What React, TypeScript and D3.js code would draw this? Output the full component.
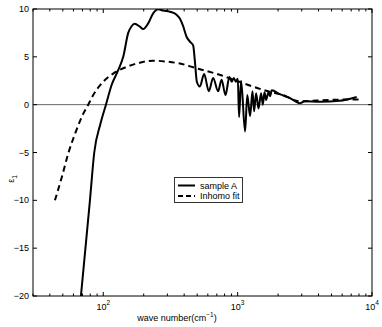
import React, { useEffect, useRef } from "react";
import * as d3 from "d3";

// sample A (solid), wave number in cm^-1
const sampleWave = [
  68.2, 79.6, 85.7, 95.3, 104.7, 115.4, 129.2, 140.8, 153.4, 162.5, 171.1, 187.3, 198.3, 215.9, 235.2,
  256.3, 279.2, 313.2, 351.2, 371.5, 393.2, 416.8, 441.0, 466.6, 480.4, 497.1, 523.3, 563.2, 610.5, 657.0,
  715.8, 759.0, 812.7, 867.5, 905.0, 936.5, 969.2, 1003, 1025, 1061, 1136, 1180, 1238, 1290, 1326,
  1372, 1430, 1495, 1539, 1585, 1628, 1697, 1744, 1795, 2058, 2443, 2899, 3158, 4082, 5748, 7691,
];
const sampleEps = [
  -20, -10, -5, -2, 0, 2.06, 3.6, 5.0, 7.5, 8.2, 8.45, 8.15, 7.9, 8.5, 9.55,
  9.97, 9.83, 9.72, 9.4, 9.0, 8.2, 7.1, 6.6, 6.2, 4.6, 2.4, 1.9, 3.2, 1.4, 2.8,
  1.4, 2.6, 1.0, 2.9, 2.4, 2.8, 2.4, 2.7, -1.3, 2.5, -2.8, 1.0, -1.2, 1.4, -0.7,
  1.2, -0.4, 1.2, 0.0, 1.3, 0.5, 1.3, 0.9, 1.5, 1.1, 0.7, 0.15, 0.35, 0.3, 0.4, 0.8,
];

// Inhomo fit (dashed)
const fitWave = [
  43.7, 49.3, 54.9, 61.6, 67.1, 71.0, 77.3, 84.2, 100, 118.6, 149.2, 187.3,
  235.2, 296.0, 371.5, 494.6, 762.8, 875, 1734, 2130, 2899, 4845, 8380,
];
const fitEps = [
  -10, -7.5, -5.1, -3.05, -1.72, -0.94, 0, 1.0, 2.4, 3.25, 3.95, 4.39,
  4.6, 4.5, 4.3, 3.8, 3.05, 2.75, 1.35, 1.05, 0.35, 0.5, 0.55,
];

const yTicks = [10, 5, 0, -5, -10, -15, -20];
const xMajor = [100, 1000, 10000];
const legendLabels = ["sample A", "Inhomo fit"];

const W = 382;
const H = 327;
const FONT = "'Liberation Sans', Arial, Helvetica, sans-serif";
const FS = 9;

export default function App() {
  const svgRef = useRef<SVGSVGElement | null>(null);

  useEffect(() => {
    const svg = d3.select(svgRef.current);
    svg.selectAll("*").remove();

    const left = 33;
    const right = 372;
    const top = 9;
    const bottom = 296;

    const x = d3.scaleLog().domain([30, 10000]).range([left, right]);
    const y = d3.scaleLinear().domain([-20, 10]).range([bottom, top]);

    svg.append("rect").attr("width", W).attr("height", H).attr("fill", "white");

    svg
      .append("defs")
      .append("clipPath")
      .attr("id", "plotClip")
      .append("rect")
      .attr("x", left)
      .attr("y", top)
      .attr("width", right - left)
      .attr("height", bottom - top);

    // zero line
    svg
      .append("line")
      .attr("x1", left)
      .attr("x2", right)
      .attr("y1", y(0))
      .attr("y2", y(0))
      .attr("stroke", "#666")
      .attr("stroke-width", 1);

    const lineGen = d3
      .line<[number, number]>()
      .x((d) => x(d[0]))
      .y((d) => y(d[1]))
      .curve(d3.curveMonotoneX);

    const plot = svg.append("g").attr("clip-path", "url(#plotClip)");

    plot
      .append("path")
      .attr("d", lineGen(fitWave.map((w, i) => [w, fitEps[i]] as [number, number])))
      .attr("fill", "none")
      .attr("stroke", "black")
      .attr("stroke-width", 2)
      .attr("stroke-dasharray", "6,4");

    plot
      .append("path")
      .attr("d", lineGen(sampleWave.map((w, i) => [w, sampleEps[i]] as [number, number])))
      .attr("fill", "none")
      .attr("stroke", "black")
      .attr("stroke-width", 2)
      .attr("stroke-linejoin", "round");

    // axes box
    svg
      .append("rect")
      .attr("x", left)
      .attr("y", top)
      .attr("width", right - left)
      .attr("height", bottom - top)
      .attr("fill", "none")
      .attr("stroke", "black")
      .attr("stroke-width", 1);

    const ticks = svg.append("g").attr("stroke", "black").attr("stroke-width", 1);

    // y ticks, both sides, inward
    yTicks.forEach((t) => {
      ticks.append("line").attr("x1", left).attr("x2", left + 4).attr("y1", y(t)).attr("y2", y(t));
      ticks.append("line").attr("x1", right - 4).attr("x2", right).attr("y1", y(t)).attr("y2", y(t));
    });

    // x ticks (log: majors + minors), top and bottom
    x.ticks().forEach((t) => {
      const major = xMajor.includes(t);
      const len = major ? 4 : 2.5;
      ticks.append("line").attr("x1", x(t)).attr("x2", x(t)).attr("y1", bottom).attr("y2", bottom - len);
      ticks.append("line").attr("x1", x(t)).attr("x2", x(t)).attr("y1", top).attr("y2", top + len);
    });

    const fmt = d3.format("d");
    svg
      .append("g")
      .selectAll("text")
      .data(yTicks)
      .join("text")
      .attr("x", left - 4)
      .attr("y", (d) => y(d))
      .attr("dy", "0.35em")
      .attr("text-anchor", "end")
      .attr("font-family", FONT)
      .attr("font-size", FS)
      .text((d) => fmt(d));

    xMajor.forEach((t) => {
      const txt = svg
        .append("text")
        .attr("x", x(t))
        .attr("y", 310)
        .attr("text-anchor", "middle")
        .attr("font-family", FONT)
        .attr("font-size", FS);
      txt.append("tspan").text("10");
      txt
        .append("tspan")
        .attr("dy", -5)
        .attr("font-size", 6.5)
        .text(String(Math.round(Math.log10(t))));
    });

    // x label
    const xl = svg
      .append("text")
      .attr("x", 177)
      .attr("y", 321)
      .attr("text-anchor", "middle")
      .attr("font-family", FONT)
      .attr("font-size", FS);
    xl.append("tspan").text("wave number(cm");
    xl.append("tspan").attr("dy", -4).attr("font-size", 6.5).text("\u22121");
    xl.append("tspan").attr("dy", 4).text(")");

    // y label
    const yl = svg
      .append("text")
      .attr("transform", "translate(14,179) rotate(-90)")
      .attr("text-anchor", "middle")
      .attr("font-family", FONT)
      .attr("font-size", FS);
    yl.append("tspan").text("\u03b5");
    yl.append("tspan").attr("dy", 3).attr("font-size", 6.5).text("1");

    // legend
    const lg = svg.append("g");
    lg.append("rect")
      .attr("x", 174.5)
      .attr("y", 177.5)
      .attr("width", 68)
      .attr("height", 25)
      .attr("fill", "white")
      .attr("stroke", "#333")
      .attr("stroke-width", 1);
    legendLabels.forEach((label, i) => {
      const ly = 185.5 + i * 10.5;
      lg.append("line")
        .attr("x1", 178)
        .attr("x2", 195)
        .attr("y1", ly)
        .attr("y2", ly)
        .attr("stroke", "black")
        .attr("stroke-width", 2)
        .attr("stroke-dasharray", i === 1 ? "5,3" : null);
      lg.append("text")
        .attr("x", 200)
        .attr("y", ly)
        .attr("dy", "0.35em")
        .attr("font-family", FONT)
        .attr("font-size", FS)
        .text(label);
    });
  }, []);

  return (
    <svg
      ref={svgRef}
      width={W}
      height={H}
      style={{ position: "absolute", left: 0, top: 0, display: "block" }}
    />
  );
}
